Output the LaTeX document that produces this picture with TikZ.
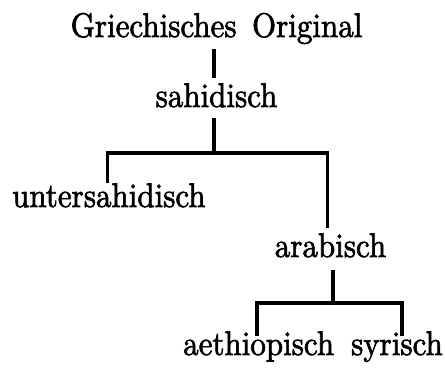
\documentclass[tikz,border=0pt]{standalone}
\usepackage{fontspec}
% the 10pt design of Latin Modern, emboldened, at every size
\setmainfont{lmroman10-regular}[Extension=.otf, FakeBold=2]
% labels are set in a slightly tall, narrow cut
\newcommand\tallword[1]{\scalebox{1}[1.1]{#1}}
\begin{document}
\begin{tikzpicture}[x=1pt,y=1pt,
  lbl/.style={inner sep=0pt,anchor=base,font=\fontsize{31}{36}\selectfont},
  branch/.style={line width=3.1pt}]
\useasboundingbox (0,0) rectangle (445,369);
% names of the versions
\node[lbl] (G) at (216.5,332) {\tallword{Griechisches\hspace{0.5em}Original}};
\node[lbl] (S) at (216.5,262) {\tallword{sahidisch}};
\node[lbl,anchor=base west] (U) at (12,162) {\tallword{untersahidisch}};
\node[lbl] (A) at (330.5,112) {\tallword{arabisch}};
\node[lbl,anchor=base west] (AE) at (183,14) {\tallword{aethiopisch}};
\node[lbl,anchor=base east] (SY) at (443,14) {\tallword{syrisch}};
% junction points of the branches
\coordinate (j1) at (214,216);
\coordinate (j1l) at (106,216);
\coordinate (j1r) at (329,216);
\coordinate (j2) at (333,66);
\coordinate (j2l) at (255,66);
\coordinate (j2r) at (404,66);
% stems
\draw[branch] ([yshift=-12pt]G.base -| j1) -- ([yshift=29pt]S.base -| j1);
\draw[branch] ([yshift=-11pt]S.base -| j1) -- (j1);
\draw[branch] (j1l) -- (j1r);
\draw[branch] ([xshift=1.5pt]j1l) -- ([xshift=1.5pt,yshift=24pt]U.base -| j1l);
\draw[branch] ([xshift=-1.5pt]j1r) -- ([xshift=-1.5pt,yshift=29pt]A.base -| j1r);
\draw[branch] ([yshift=-13pt]A.base -| j2) -- (j2);
\draw[branch] (j2l) -- (j2r);
\draw[branch] ([xshift=2pt]j2l) -- ([xshift=2pt,yshift=19pt]AE.base -| j2l);
\draw[branch] ([xshift=-2pt]j2r) -- ([xshift=-2pt,yshift=19pt]SY.base -| j2r);
\end{tikzpicture}
\end{document}
